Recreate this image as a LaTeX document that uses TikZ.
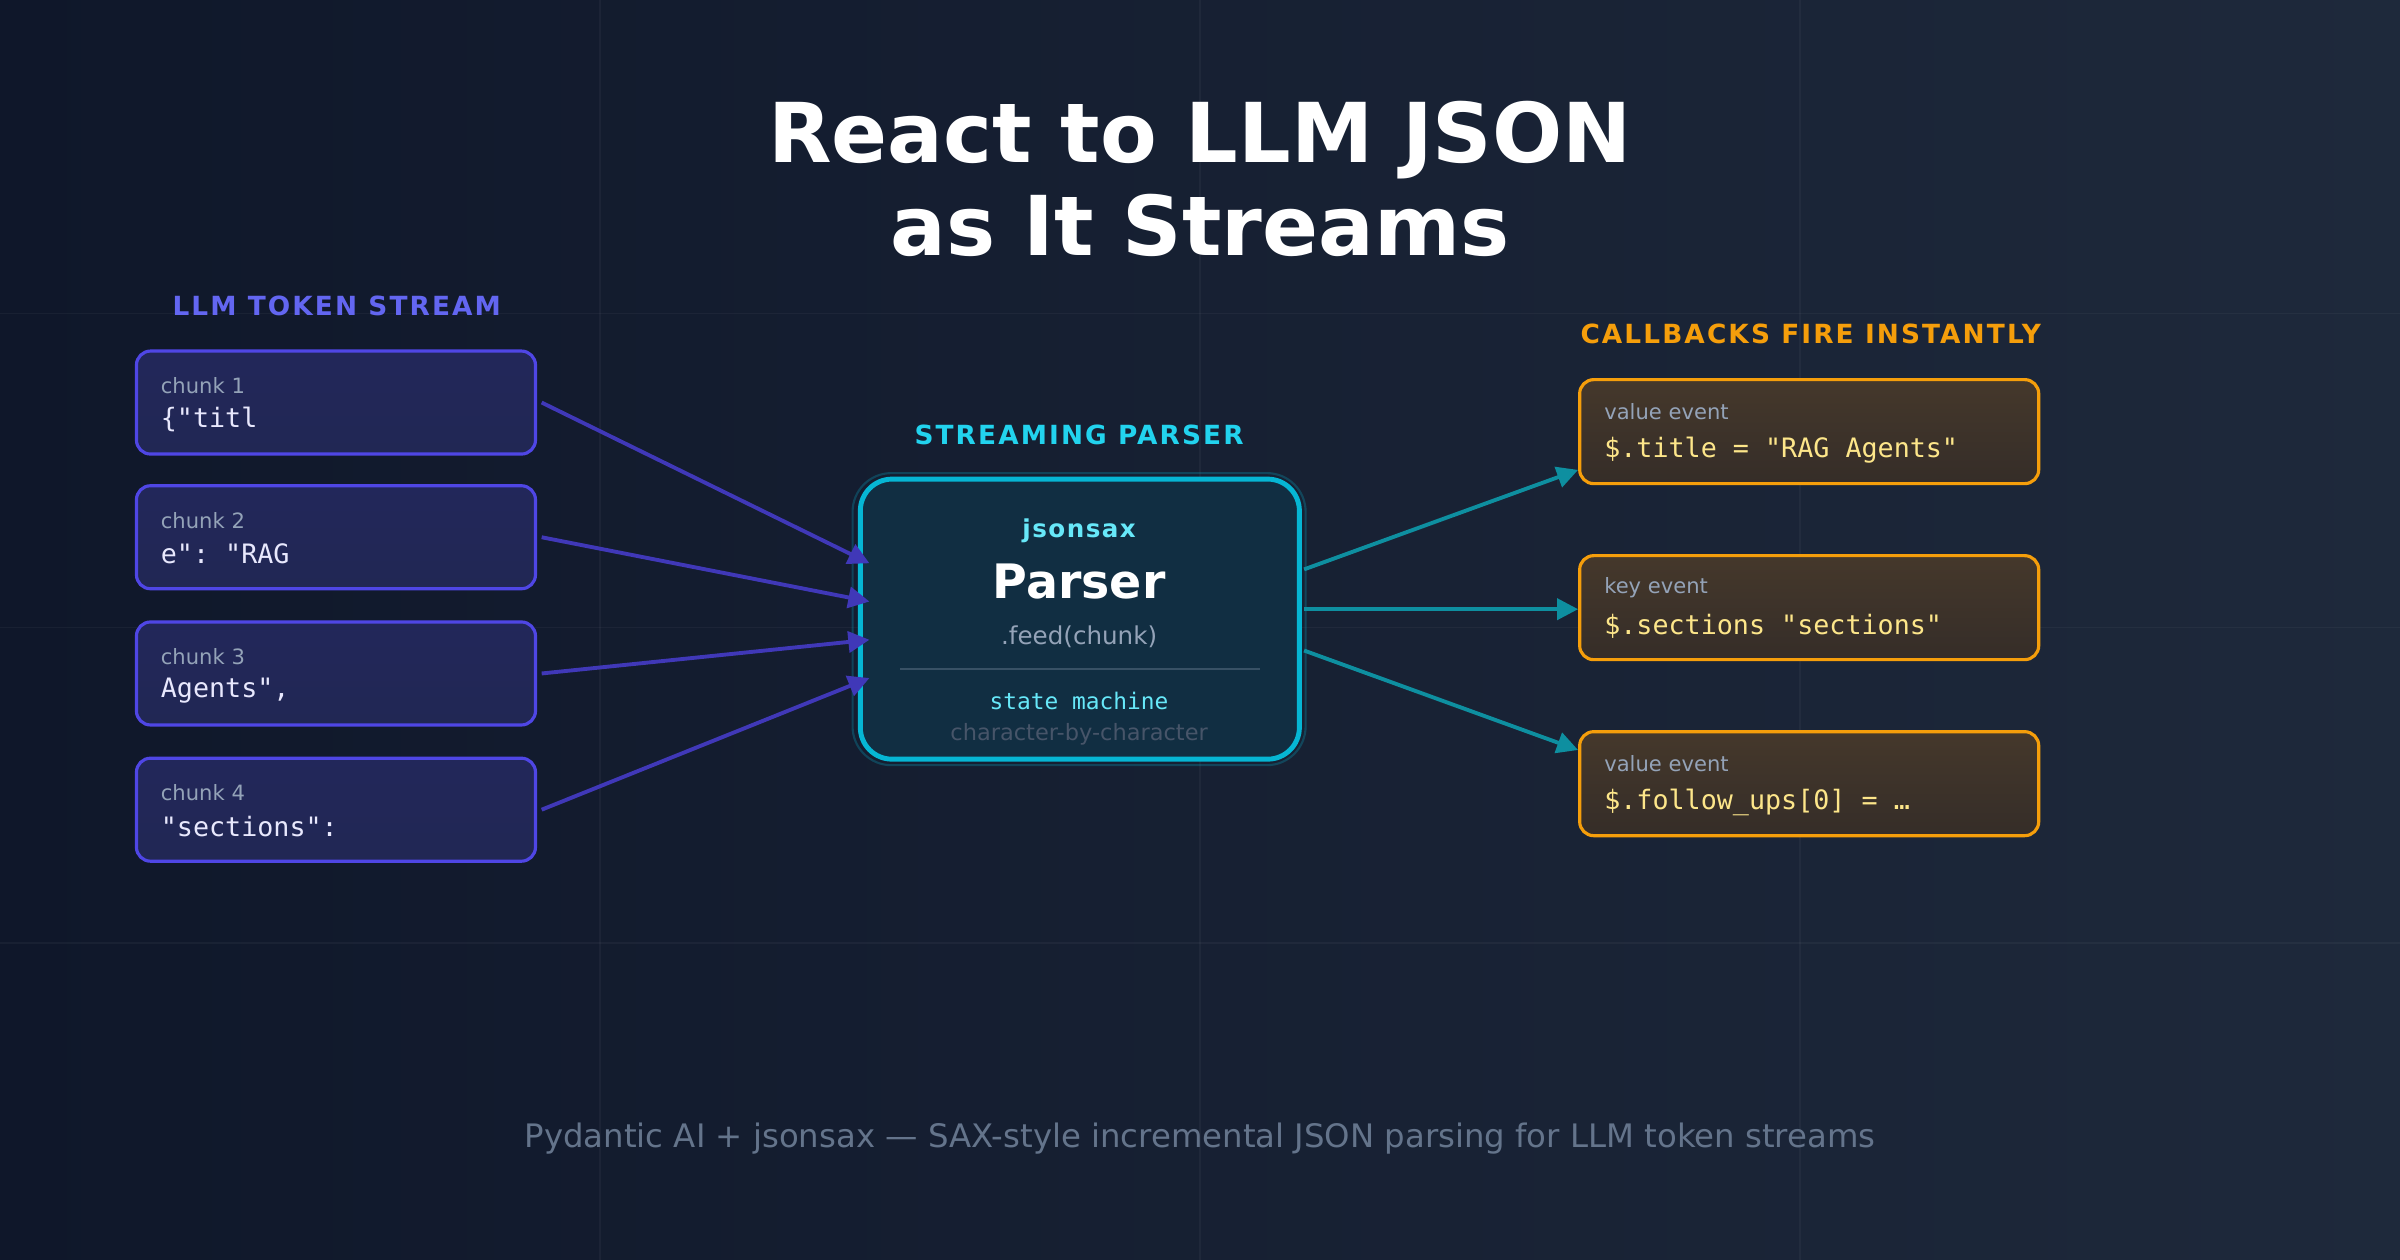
\documentclass[tikz,border=0pt]{standalone}
\usepackage{fontspec}
\setmainfont{DejaVu Sans}
\setmonofont{DejaVu Sans Mono}
\usetikzlibrary{arrows.meta,positioning}
\definecolor{bgA}{HTML}{0F172A}
\definecolor{bgB}{HTML}{1E293B}
\definecolor{indigo}{HTML}{6366F1}
\definecolor{indigoline}{HTML}{4F46E5}
\definecolor{indigoarrow}{HTML}{4038B8}
\definecolor{chunkfill}{HTML}{22275A}
\definecolor{cyanline}{HTML}{06B6D4}
\definecolor{cyantext}{HTML}{22D3EE}
\definecolor{cyanlight}{HTML}{67E8F9}
\definecolor{cyanarrow}{HTML}{0E8FA0}
\definecolor{parserfill}{HTML}{112E42}
\definecolor{amber}{HTML}{F59E0B}
\definecolor{amberfill}{HTML}{45382B}
\definecolor{amberfillB}{HTML}{352D28}
\definecolor{codeyellow}{HTML}{FDE68A}
\definecolor{mutedtext}{HTML}{94A3B8}
\definecolor{dimtext}{HTML}{475569}
\definecolor{foottext}{HTML}{64748B}
\tikzset{
  header/.style={font=\fontsize{7.5}{9}\selectfont\bfseries\addfontfeature{LetterSpace=8}},
  chunk/.style={draw=indigoline, line width=0.9pt, rounded corners=4pt,
    top color=chunkfill, bottom color=chunkfill!80!bgB,
    minimum width=3.99cm, minimum height=1.03cm},
  event/.style={draw=amber, line width=0.9pt, rounded corners=4pt,
    top color=amberfill, bottom color=amberfillB,
    minimum width=4.59cm, minimum height=1.04cm},
  small/.style={font=\fontsize{6}{7}\selectfont, text=mutedtext, anchor=west},
  code/.style={font=\ttfamily\fontsize{7.6}{9}\selectfont, anchor=west},
  inarrow/.style={draw=indigoarrow, line width=1.1pt, -{Triangle[length=6pt,width=6pt]}},
  outarrow/.style={draw=cyanarrow, line width=1.1pt, -{Triangle[length=6pt,width=6pt]}},
}
\begin{document}
\begin{tikzpicture}[x=0.015306cm, y=-0.015306cm]
  % background
  \shade[left color=bgA, right color=bgB] (0,0) rectangle (1568,823);
  \useasboundingbox (0,0) rectangle (1568,823);
  \foreach \gx in {392,784,1176} \draw[white, opacity=0.04] (\gx,0) -- (\gx,823);
  \foreach \gy in {205,410,616} \draw[white, opacity=0.04] (0,\gy) -- (1568,\gy);

  % title
  \node[font=\fontsize{23.5}{26.5}\selectfont\bfseries, text=white, align=center]
    (title) at (784,117) {React to LLM JSON\\as It Streams};

  % token stream
  \node[header, text=indigo] (streamhead) at (220,200) {LLM TOKEN STREAM};
  \foreach \i/\y/\txt in {1/263/{\{"titl}, 2/351/{e": "RAG}, 3/440/{Agents",}, 4/529/{"sections":}} {
    \node[chunk] (chunk\i) at (219.5,\y) {};
    \node[small] (chunklbl\i) at (97,\y-11) {chunk \i};
    \node[code, text=indigo!15] (chunktxt\i) at (97,\y+11) {\txt};
  }

  % parser
  \node[header, text=cyantext] (parserhead) at (705,284) {STREAMING PARSER};
  \node[draw=cyanline, opacity=0.25, line width=0.6pt, rounded corners=11pt,
    minimum width=4.53cm, minimum height=2.92cm] (glow) at (705,404.5) {};
  \node[draw=cyanline, fill=parserfill, line width=1.4pt, rounded corners=9pt,
    minimum width=4.39cm, minimum height=2.8cm] (parser) at (705.5,404.5) {};
  \node[font=\fontsize{7}{8}\selectfont\bfseries\addfontfeature{LetterSpace=6}, text=cyanlight] (libname) at (705,347) {jsonsax};
  \node[font=\fontsize{13.5}{16}\selectfont\bfseries, text=white] (parsername) at (705,380) {Parser};
  \node[font=\fontsize{7}{8}\selectfont, text=mutedtext] (feed) at (705,416) {.feed(chunk)};
  \draw[mutedtext, opacity=0.3] (588,437) -- (823,437);
  \node[font=\ttfamily\fontsize{6.5}{8}\selectfont, text=cyanlight] (machine) at (705,458) {state machine};
  \node[font=\fontsize{6.4}{8}\selectfont, text=dimtext] (charwise) at (705,480) {character-by-character};

  % callbacks
  \node[header, text=amber] (eventhead) at (1183,218) {CALLBACKS FIRE INSTANTLY};
  \foreach \i/\y/\lbl/\txt in {1/282/value event/{\$.title = "RAG Agents"},
                              2/397/key event/{\$.sections "sections"},
                              3/512/value event/{\$.follow\_ups[0] = …}} {
    \node[event] (event\i) at (1182,\y) {};
    \node[small] (eventlbl\i) at (1040,\y-13) {\lbl};
    \node[code, text=codeyellow] (eventtxt\i) at (1040,\y+12) {\txt};
  }

  % connectors
  \foreach \i/\y in {1/368,2/393,3/418,4/443} {
    \coordinate (in\i) at (568,\y);
    \draw[inarrow] (chunk\i.east) ++(3,0) -- (in\i);
  }
  \coordinate (out1) at (852,372);
  \coordinate (out2) at (852,398);
  \coordinate (out3) at (852,425);
  \draw[outarrow] (out1) -- (event1.west |- 0,307);
  \draw[outarrow] (out2) -- (event2.west |- 0,398);
  \draw[outarrow] (out3) -- (event3.west |- 0,490);

  % footer
  \node[font=\fontsize{9.2}{11}\selectfont, text=foottext] (footer) at (784,744)
    {Pydantic AI + jsonsax — SAX-style incremental JSON parsing for LLM token streams};
\end{tikzpicture}
\end{document}
